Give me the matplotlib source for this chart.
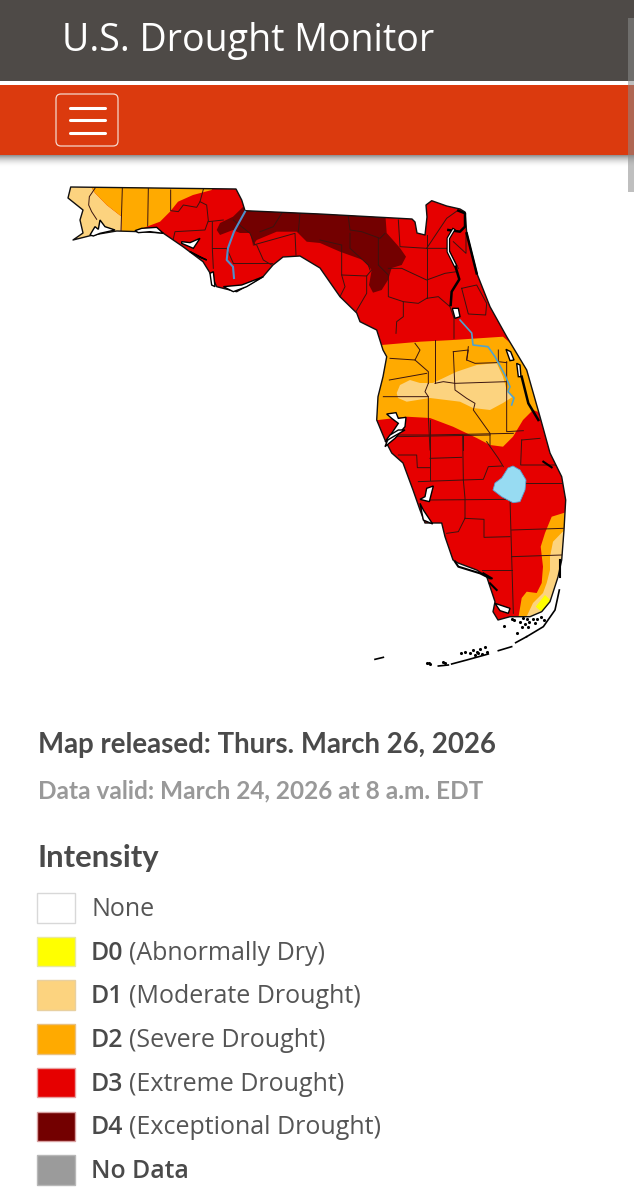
import matplotlib
matplotlib.use('Agg')
import matplotlib.pyplot as plt
from matplotlib.patches import Polygon, Rectangle, FancyBboxPatch

# outline of the state, read in image pixels
florida = [(70.7,187),(236,189),(241.7,200),(245,210.7),(320,214),(412,219),(415,222),(417,233),(425,235),
           (427,217),(426,205),(431.7,200.7),(446.7,206),(460,209),(465,212),(466.7,233),(476.7,273),(490,306.7),
           (506.7,336.7),(526.7,370),(540,416.7),(550,453),(561.7,476.7),(565.7,500),(564,530),(561.7,560),
           (558,577),(550,601.7),(541.7,611.7),(530,616.7),(516.7,616.7),(510,616.7),(498,620),(493,611.7),
           (495,601.7),(486.7,576.7),(476.7,570),(458,563),(453,560),(445,536.7),(441.7,523),(425,523),(420,510),
           (413,490),(403,463),(391.7,453),(385,440),(376.7,420),(378,396.7),(383,376.7),(386.7,356.7),(383,350),
           (376.7,330),(360,321.7),(356.7,313),(340,296.7),(333,286.7),(320,268),(300,256),(283,257),(273,265),
           (263,276.7),(236.7,291.7),(216.7,286.7),(210,273),(203,261.7),(183,246.7),(163,233),(140,231.7),
           (116.7,231),(93,235),(73,240),(83,233),(80,220),(83,210),(68,198)]

# drought areas, read in image pixels
d1_west = [(60,180),(86.7,180),(95,193),(106.7,205),(121.7,216.7),(121.7,232),(60,245)]
d2_west = [(86.7,180),(215,180),(211.7,190),(193,195),(178,201.7),(170,211.7),(160,221.7),(146.7,226.7),
           (131.7,233),(121.7,233),(121.7,216.7),(106.7,205),(95,193)]
d4_north = [(216.7,230),(220,223),(233,216.7),(245,205),(385,210),(386.7,233),(400,248),(406,256.7),(401.7,265),
            (391.7,268),(388,280),(381.7,290),(373,292.7),(369,285),(371.7,270),(363,260),(340,251.7),(320,243),
            (306.7,241.7),(296.7,231.7),(276.7,231.7),(256.7,240),(253,245),(250,233),(240,233),(233,230),(220,235)]
d2_central = [(370,346),(420,341.7),(453,340),(503,336.7),(530,360),(560,420),(533,410),(523,420),(513,436.7),
              (503,446.7),(490,445),(476.7,438),(453,426.7),(430,418),(406.7,416.7),(370,421)]
d1_central = [(396.7,393),(400,385),(410,380),(420,383),(433,383),(456.7,371.7),(476.7,365),(496.7,363),(503,376.7),
              (506.7,390),(513,396.7),(503,403),(490,410),(473,408),(460,401.7),(430,398),(406.7,401.7),(398,398)]
d2_south = [(570,511),(551.7,516.7),(545,533),(540.7,546.7),(543,566.7),(541.7,583),(536.7,593),(526.7,591.7),
            (521.7,598),(518,620),(570,620)]
d1_south = [(570,530),(562.7,531.7),(553,541.7),(550,556.7),(550,570),(546.7,583),(543,593),(533,603),(525,620),(570,620)]
d0_south = [(545,595),(552,601.7),(541.7,612),(535.7,606.7)]
lake = [(513,466),(508,468),(501.7,478),(495,483),(493,490),(501.7,496.7),(513,502.7),(520,501.7),(525,490),(526,480),(520,470)]

apalachicola = [(245,211.7),(236.7,226.7),(234,231.7),(228,248),(226.7,260),(233,266.7),(234,278)]
st_johns = [(460,320),(471.7,333),(473,345),(488,346.7),(495,356.7),(505,375),(510,386.7),(508,391.7),(514,398),(511.7,405)]

# county lines (x, y in crop pixels at 3x)
counties_nw = [
    [(135,55),(118,80),(116,105),(125,125),(140,148)],
    [(217,55),(213,182)], [(295,55),(293,168)],
    [(362,60),(362,122),(385,125),(400,105),(440,112),(450,95),(470,105),(475,152),(465,180),(375,185),(368,215)],
    [(460,58),(450,95)], [(475,155),(520,150)], [(487,155),(487,235),(490,295)], [(487,235),(530,235)],
    [(550,280),(665,280)], [(620,225),(640,270),(665,285)], [(610,225),(735,190),(738,255)],
    [(550,150),(600,190),(615,225)], [(695,130),(670,170),(630,185)], [(750,130),(745,185)],
    [(530,235),(550,280)],
]
counties_ne = [
    [(85,80),(90,120),(125,125),(180,145),(195,130)], [(90,130),(90,175),(145,225),(150,240)],
    [(0,150),(65,165),(65,255),(140,258),(155,240)], [(65,255),(75,290),(60,320)], [(140,258),(140,310),(105,370)],
    [(175,145),(175,225),(205,255),(205,320),(250,335),(250,380),(230,395),(228,430)],
    [(235,90),(240,170),(320,175)], [(320,135),(320,325)], [(320,175),(380,85),(415,60)],
    [(320,175),(385,175),(415,235)], [(205,235),(245,235),(320,270),(375,250),(410,245)],
    [(320,325),(295,340),(250,335)], [(320,325),(355,320),(390,350),(402,385),(402,445)],
    [(425,295),(470,285),(500,340),(497,375),(445,372),(425,295)], [(400,155),(438,190),(438,130)],
    [(210,505),(285,510),(300,480),(285,460)], [(285,510),(325,545),(325,580)], [(208,570),(320,550)],
    [(190,620),(325,620),(325,680),(330,780)], [(325,580),(315,605),(325,620)], [(345,450),(345,580)],
    [(345,580),(370,575),(405,580),(560,575)],
    [(400,485),(405,600),(440,625),(465,640),(460,660),(510,730),(510,765)],
    [(400,485),(445,480),(440,510),(465,520),(530,518)], [(445,470),(440,510)],
    [(560,515),(560,725),(610,722)], [(535,480),(535,515),(560,518)], [(430,735),(430,780)], [(228,740),(510,735)],
]
counties_se = [
    [(180,0),(180,180)], [(85,105),(140,105),(142,143),(180,143)], [(180,115),(275,112)], [(85,45),(180,45),(430,40)],
    [(278,45),(280,180),(285,235),(285,295)], [(350,65),(385,115),(400,140)], [(280,180),(340,178),(355,140),(395,138)],
    [(455,60),(452,135),(560,135)], [(455,60),(510,55)], [(465,188),(575,188)], [(145,185),(195,183),(280,180)],
    [(180,240),(420,238),(425,410)], [(285,295),(342,298),(342,352),(420,350)], [(285,295),(265,335),(230,340)],
    [(425,330),(580,325)], [(425,410),(575,405)], [(425,410),(430,580)], [(335,450),(425,450)],
]

# bays and lagoons, white with a black shore
bays_nw = [
    [(120,195),(135,170),(145,178),(150,150),(165,170),(195,180),(150,190),(130,198)],
    [(255,182),(275,175),(320,172),(340,190),(300,185),(265,188)],
    [(395,215),(420,218),(450,205),(430,235),(395,220)], [(420,245),(470,270),(450,262)],
    [(480,310),(490,305),(495,350),(485,345)], [(520,350),(575,345),(640,320),(590,350),(550,365)],
]
bays_ne = [
    [(200,672),(228,668),(235,685),(258,682),(255,710),(225,745),(195,770),(205,745),(235,700),(215,685)],
    [(397,355),(415,355),(420,380),(405,385)],
    [(558,478),(572,485),(582,510),(570,512)], [(590,520),(600,525),(603,560),(595,560)],
]
bays_se = [
    [(150,250),(160,300),(188,312),(160,270)], [(170,205),(190,198),(178,245),(150,238),(165,230)],
    [(45,65),(70,50),(105,30),(85,30),(60,45)], [(375,550),(420,565),(415,580),(390,572)],
]

# wide black shores and rivers, crop pixels of the north-east crop
black_ne = [
    [(415,62),(435,70),(435,110),(420,125),(385,120)],
    [(405,225),(418,268),(395,305),(392,345)],
    [(605,560),(625,640),(655,690)], [(440,130),(470,250)],
]
river_white = [(400,120),(385,145),(385,185),(405,225)]
# the same for the south-east crop
black_se = [[(255,425),(265,440),(330,460),(360,475)], [(360,490),(380,510)], [(340,460),(365,475)],
            [(520,125),(545,142)], [(570,420),(570,470)]]

# keys and small islands, crop pixels of the south-east crop
keys_lines = [[(385,692),(425,680)], [(437,668),(470,650)], [(470,650),(520,620),(555,570),(568,510)],
              [(245,732),(290,720),(355,702)], [(15,718),(40,712)], [(205,738),(235,735)]]
keys_x = [402,440,425,432,450,455,465,470,478,488,495,500,512,522,460,475,300,310,320,330,345,285,272,178,180,218,226,170,350,315,325,335]
keys_y = [618,640,598,600,605,622,612,598,605,596,610,598,590,600,595,620,700,690,695,688,680,695,700,730,733,725,730,728,695,705,700,703]

# legend
legend_keys = ['', 'D0', 'D1', 'D2', 'D3', 'D4', 'No Data']
legend_names = ['None', '(Abnormally Dry)', '(Moderate Drought)', '(Severe Drought)', '(Extreme Drought)', '(Exceptional Drought)', '']
legend_colors = ['#ffffff', '#ffff00', '#fcd37f', '#ffaa00', '#e60000', '#730000', '#9b9b9b']
legend_edges = ['#d8d8d8', '#e8e8a0', '#e8d0a0', '#e8c080', '#e8a0a0', '#d8a0a0', '#b8b8b8']

title_text = 'Map released: Thurs. March 26, 2026'
valid_text = 'Data valid: March 24, 2026 at 8 a.m. EDT'
intensity_text = 'Intensity'


def crop(points, x0, y0):
    return [(x0 + x / 3, y0 + y / 3) for x, y in points]


def line_xy(points):
    return [q[0] for q in points], [q[1] for q in points]


fig = plt.figure(figsize=(6.34, 11.99), dpi=100)
ax = fig.add_axes([0, 0, 1, 1])
ax.set_xlim(0, 634)
ax.set_ylim(1199, 0)
ax.axis('off')
plt.rcParams['font.family'] = ['Open Sans', 'DejaVu Sans']

# page header
ax.add_patch(Rectangle((0, 0), 634, 81, color='#4e4a47', lw=0))
ax.add_patch(Rectangle((0, 85), 634, 70, color='#db3a0e', lw=0, zorder=3))
for i in range(12):
    ax.add_patch(Rectangle((0, 155 + i), 634, 1, color='black', alpha=0.42 * (1 - i / 12) ** 2, lw=0))
ax.add_patch(FancyBboxPatch((56, 94), 62, 52, boxstyle='round,pad=0,rounding_size=5', fc='none', ec='#f4d8cc', lw=0.9, zorder=4))
for y in [107.7, 120, 132.7]:
    ax.plot([69.5, 104.5], [y, y], color='white', lw=2.2, solid_capstyle='round', zorder=4)
ax.text(62, 50.5, 'U.S. Drought Monitor', color='white', fontsize=27, va='baseline')
ax.add_patch(Rectangle((628, 18), 6, 174, color='#8c8c8c', alpha=0.55, lw=0, zorder=5))

# map
base = Polygon(florida, closed=True, fc='#e60000', ec='none', zorder=5)
ax.add_patch(base)
areas = [(d1_west, '#fcd37f'), (d2_west, '#ffaa00'), (d4_north, '#730000'), (d2_central, '#ffaa00'),
         (d1_central, '#fcd37f'), (d2_south, '#ffaa00'), (d1_south, '#fcd37f'), (d0_south, '#ffff00')]
for area, colour in areas:
    p = Polygon(area, closed=True, fc=colour, ec='none', zorder=6)
    ax.add_patch(p)
    p.set_clip_path(base)

for lines, x0, y0 in [(counties_nw, 50, 170), (counties_ne, 320, 190), (counties_se, 370, 420)]:
    for line in lines:
        l, = ax.plot(*line_xy(crop(line, x0, y0)), color='#3a1410', lw=0.7, zorder=7)
        l.set_clip_path(base)

ax.add_patch(Polygon(florida, closed=True, fc='none', ec='#111111', lw=1.0, joinstyle='round', zorder=8))
for bays, x0, y0 in [(bays_nw, 50, 170), (bays_ne, 320, 190), (bays_se, 370, 420)]:
    for bay in bays:
        ax.add_patch(Polygon(crop(bay, x0, y0), closed=True, fc='white', ec='black', lw=1.0, zorder=9))

for line in black_ne:
    ax.plot(*line_xy(crop(line, 320, 190)), color='black', lw=1.8, zorder=9)
for line in black_se:
    ax.plot(*line_xy(crop(line, 370, 420)), color='black', lw=1.5, zorder=9)
ax.plot(*line_xy(crop(river_white, 320, 190)), color='black', lw=2.6, zorder=9)
ax.plot(*line_xy(crop(river_white, 320, 190)), color='white', lw=0.9, zorder=9)
ax.add_patch(Polygon(lake, closed=True, fc='#97dbf2', ec='#5a9fd0', lw=0.6, zorder=10))
ax.plot(*line_xy(apalachicola), color='#4f8fcb', lw=1.5, zorder=10)
ax.plot(*line_xy(st_johns), color='#4fa3cf', lw=1.2, zorder=10)

for line in keys_lines:
    ax.plot(*line_xy(crop(line, 370, 420)), color='black', lw=1.2, zorder=9)
ax.scatter([370 + x / 3 for x in keys_x], [420 + y / 3 for y in keys_y], s=5, color='black', lw=0, zorder=9)

# release text: the site's narrow heading face is not here, so take the narrowest installed bold and fit its width
renderer = fig.canvas.get_renderer()
best_family, best_width = 'Open Sans', 1e9
for family in ['Liberation Sans Narrow', 'Roboto', 'Lato', 'Open Sans', 'Inter']:
    probe = ax.text(0, 0, title_text, family=family, fontweight='bold', fontsize=20)
    width = probe.get_window_extent(renderer).width
    probe.remove()
    if width < best_width:
        best_family, best_width = family, width


def heading(x, y, text, colour, target):
    t = ax.text(x, y, text, color=colour, fontsize=20, fontweight='bold', family=best_family)
    t.set_fontsize(20 * target / t.get_window_extent(renderer).width)


heading(38, 752.5, title_text, '#4a4a4a', 459)
heading(38, 798, valid_text, '#999999', 445)
heading(38, 867, intensity_text, '#4a4a4a', 122)

# legend
for i in range(len(legend_colors)):
    top = 893 + i * 43.7
    base_y = 916 + i * 43.7
    ax.add_patch(Rectangle((37, top), 38, 29.5, fc=legend_colors[i], ec=legend_edges[i], lw=1))
    if legend_keys[i]:
        ax.text(91, base_y, legend_keys[i], color='#4a4a4a', fontsize=17.8, fontweight='semibold')
    if legend_names[i]:
        ax.text(129 if legend_keys[i] else 91, base_y, legend_names[i], color='#555555', fontsize=18)

fig.savefig('out.png', dpi=100)
